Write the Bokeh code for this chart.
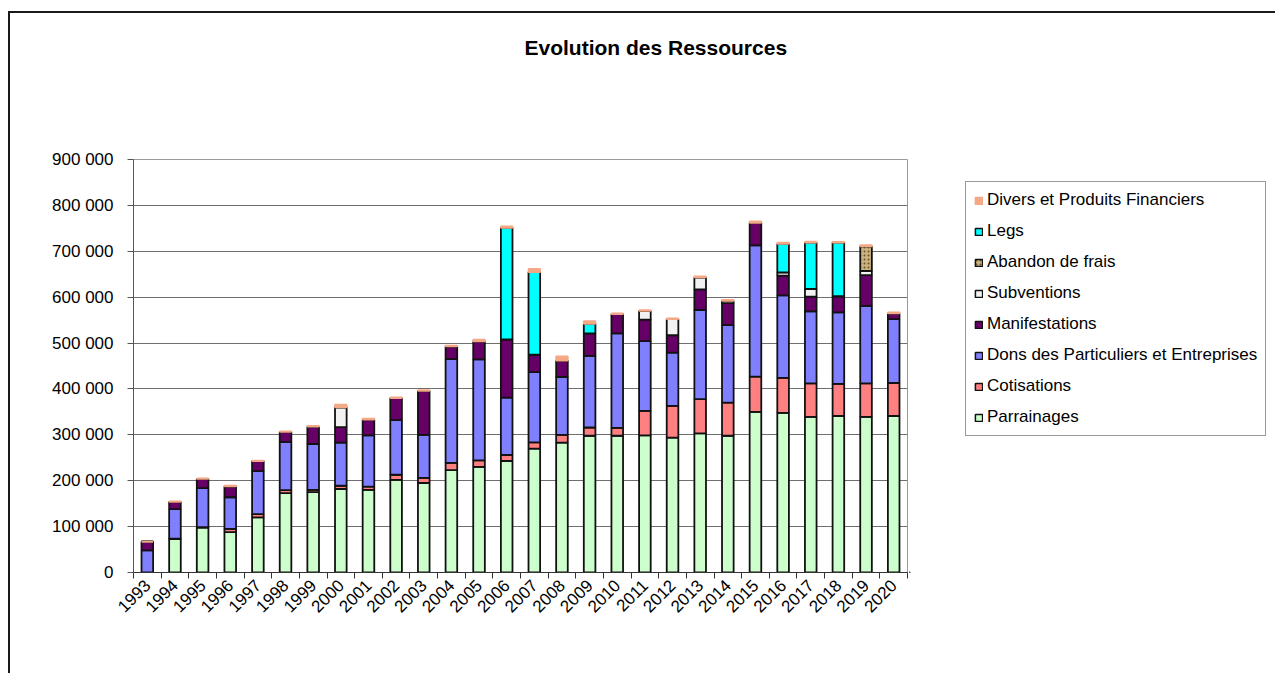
from bokeh.plotting import figure
from bokeh.layouts import row
from bokeh.models import (Range1d, FixedTicker, CustomJSTickFormatter, NumeralTickFormatter,
                          Legend, LegendItem, Title)
from bokeh.embed import file_html
from bokeh.resources import INLINE
import math

years = list(range(1993, 2021))

parrainages = [0, 73000, 98000, 88000, 120000, 173000, 175000, 182000, 180000, 202000,
               195000, 223000, 230000, 243000, 270000, 283000, 298000, 298000, 299000, 294000,
               303000, 298000, 350000, 348000, 339000, 341000, 339000, 341000]
cotisations = [0, 1000, 1000, 7000, 7000, 6500, 5000, 7000, 7000, 11000,
               11000, 16000, 14500, 13000, 13500, 17000, 18000, 17000, 53000, 69000,
               75000, 72000, 77000, 76000, 73000, 70000, 73000, 72000]
dons = [48000, 64000, 85000, 69000, 94000, 105000, 100000, 94000, 112000, 119000,
        94000, 226000, 220000, 125000, 153000, 126000, 156000, 206000, 152000, 116000,
        194000, 169000, 286000, 180000, 157000, 156000, 169000, 139000]
manifestations = [19000, 16000, 20000, 24000, 22000, 22000, 38000, 34000, 34000, 48000,
                  96000, 28000, 39000, 127000, 38000, 36000, 49000, 42000, 47000, 38000,
                  45000, 48000, 49000, 43000, 32000, 35000, 67000, 13000]
subventions = [0, 0, 0, 0, 0, 0, 0, 43000, 0, 0,
               0, 0, 0, 0, 0, 0, 0, 0, 19000, 35000,
               26000, 5000, 0, 7000, 17000, 0, 9000, 0]
abandon = [0] * 26 + [54000, 0]
legs = [0, 0, 0, 0, 0, 0, 0, 0, 0, 0,
        0, 0, 0, 243000, 180000, 0, 21000, 0, 0, 0,
        0, 0, 0, 62000, 101000, 117000, 0, 0]
divers = [0, 1000, 1000, 1000, 1000, 1000, 1500, 6000, 2000, 1500,
          1500, 1500, 4000, 3000, 7000, 9000, 6000, 1500, 1500, 1500,
          2000, 2000, 3000, 3000, 2000, 1500, 2500, 2000]

series = ["Parrainages", "Cotisations", "Dons des Particuliers et Entreprises", "Manifestations",
          "Subventions", "Abandon de frais", "Legs", "Divers et Produits Financiers"]
columns = [parrainages, cotisations, dons, manifestations, subventions, abandon, legs, divers]
colors = ["#CCFFCC", "#FF8080", "#8080FF", "#660066", "#F2F2F2", "#C9B27E", "#00FFFF", "#F4A886"]
line_colors = ["#111111"] * 7 + ["#F4A886"]
hatches = [" ", " ", " ", " ", " ", ".", " ", " "]
y_ticks = list(range(0, 900001, 100000))

FONT = "Liberation Sans"

data = {"year": years}
keys = []
for i, (name, col) in enumerate(zip(series, columns)):
    k = f"s{i}"
    keys.append(k)
    data[k] = col

p = figure(width=899, height=660, output_backend="svg", toolbar_location=None, title=None,
           x_range=Range1d(1992.5, 2020.5), y_range=Range1d(0, 900000),
           min_border_left=123, min_border_right=2, min_border_top=146, min_border_bottom=101)

renderers = p.vbar_stack(keys, x="year", width=0.42, source=data,
                         fill_color=colors, line_color=line_colors, line_width=1.8,
                         hatch_pattern=hatches, hatch_color="#6E5128", hatch_scale=4, hatch_weight=1.5)

p.outline_line_color = "#9a9a9a"
p.xgrid.grid_line_color = None
p.ygrid.grid_line_color = "#6f6f6f"
p.ygrid.grid_line_width = 1
p.ygrid.ticker = FixedTicker(ticks=y_ticks)

yax = p.yaxis[0]
yax.ticker = FixedTicker(ticks=y_ticks)
yax.formatter = CustomJSTickFormatter(code="return tick.toString().replace(/\\B(?=(\\d{3})+(?!\\d))/g, ' ');")
yax.major_label_text_font = FONT
yax.major_label_text_font_size = "17px"
yax.major_label_text_color = "#000000"
yax.major_label_standoff = 14
yax.major_tick_out = 6
yax.major_tick_in = 0
yax.minor_tick_line_color = None
yax.axis_line_color = "#555555"
yax.major_tick_line_color = "#555555"

xax = p.xaxis[0]
xax.ticker = FixedTicker(ticks=years, minor_ticks=[y - 0.5 for y in years] + [2020.5])
xax.formatter = NumeralTickFormatter(format="0")
xax.major_label_orientation = math.pi / 4
xax.major_label_text_font = FONT
xax.major_label_text_font_size = "17px"
xax.major_label_text_color = "#000000"
xax.major_label_standoff = 4
xax.major_tick_out = 0
xax.major_tick_in = 0
xax.minor_tick_out = 6
xax.minor_tick_in = 0
xax.minor_tick_line_color = "#333333"
xax.axis_line_color = "#333333"

# spacer (closest to the frame), then the real title further out
p.add_layout(Title(text=" ", text_font_size="1px", standoff=93), "above")
p.add_layout(Title(text="Evolution des Ressources", align="left", offset=391, standoff=10,
                   text_font=FONT, text_font_style="bold", text_font_size="21px",
                   text_color="#000000"), "above")

# legend panel as a second figure (frame aligned with the main one)
p2 = figure(width=366, height=660, output_backend="svg", toolbar_location=None, title=None,
            x_range=Range1d(0, 1), y_range=Range1d(0, 1), x_axis_type=None, y_axis_type=None,
            min_border_left=0, min_border_right=0, min_border_top=0, min_border_bottom=0)
p2.outline_line_color = None
p2.xgrid.grid_line_color = None
p2.ygrid.grid_line_color = None

legend_renderers = []
for name, fc, lc, hp in zip(series, colors, line_colors, hatches):
    r = p2.vbar(x=[-5], top=[-5], bottom=[-6], width=0.42, fill_color=fc, line_color=lc, line_width=1.5,
                hatch_pattern=hp, hatch_color="#6E5128", hatch_scale=4, hatch_weight=1.5)
    legend_renderers.append(r)

items = [LegendItem(label=name, renderers=[r]) for name, r in zip(series, legend_renderers)]
items = items[::-1]
legend = Legend(items=items, location=(56, 136), orientation="vertical",
                label_text_font=FONT, label_text_font_size="17px", label_text_color="#000000",
                glyph_width=9, glyph_height=9, label_height=20, label_standoff=4,
                spacing=11, padding=8, margin=0,
                border_line_color="#333333", border_line_width=1,
                background_fill_color="white", background_fill_alpha=1)
p2.add_layout(legend, "center")

layout = row(p, p2)
layout.styles = {"border-top": "2px solid #1a1a1a", "border-left": "2px solid #1a1a1a",
                 "margin-top": "11px", "margin-left": "8px"}

open("out.html", "w").write(file_html(layout, INLINE))
